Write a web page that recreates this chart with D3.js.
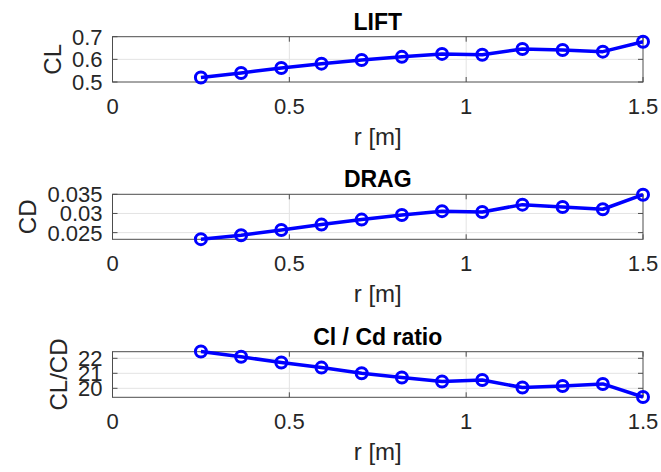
<!DOCTYPE html>
<html>
<head>
<meta charset="utf-8">
<script src="https://cdn.jsdelivr.net/npm/d3@7/dist/d3.min.js"></script>
<style>
  html, body { margin: 0; padding: 0; background: #fff; }
  svg { display: block; }
  text { font-family: "Liberation Sans", Arial, Helvetica, sans-serif; fill: #262626; }
</style>
</head>
<body>
<svg id="chart" width="661" height="472"></svg>
<script>
// Blade radial stations [m]
const radius = [0.25, 0.3636, 0.4773, 0.5909, 0.7045, 0.8182, 0.9318, 1.0455, 1.1591, 1.2727, 1.3864, 1.5];

// Section lift coefficient
const liftCoef = [0.520, 0.540, 0.562, 0.581, 0.597, 0.611, 0.624, 0.620, 0.646, 0.641, 0.634, 0.678];

// Section drag coefficient
const dragCoef = [0.0233, 0.0243, 0.0257, 0.0271, 0.0284, 0.0296, 0.0306, 0.0304, 0.0323, 0.0317, 0.0311, 0.0349];

// Lift-to-drag ratio
const liftDragRatio = [22.45, 22.10, 21.72, 21.38, 21.00, 20.72, 20.45, 20.55, 20.05, 20.15, 20.29, 19.42];

// Axis ticks and labels
const xTicks = [0, 0.5, 1, 1.5];
const liftTicks = [0.5, 0.6, 0.7];
const dragTicks = [0.025, 0.03, 0.035];
const ratioTicks = [20, 21, 22];
const panelTitles = ["LIFT", "DRAG", "Cl / Cd ratio"];
const yLabels = ["CL", "CD", "CL/CD"];
const xLabel = "r [m]";

const svg = d3.select("#chart");

const left = 112.5, right = 643;
const x = d3.scaleLinear().domain([0, 1.5]).range([left, right]);

const panels = [
  { title: panelTitles[0], ylabel: yLabels[0], values: liftCoef, ticks: liftTicks,
    domain: [0.5, 0.7], top: 36.7, bottom: 82 },
  { title: panelTitles[1], ylabel: yLabels[1], values: dragCoef, ticks: dragTicks,
    domain: [0.02326, 0.035], top: 194.3, bottom: 239.3 },
  { title: panelTitles[2], ylabel: yLabels[2], values: liftDragRatio, ticks: ratioTicks,
    domain: [19.4, 22.44], top: 351.7, bottom: 397.3 }
];

const edge = "#4d4d4d";
const gridColor = "#e3e3e3";
const tickLen = 5;
const fmt = d3.format("");

panels.forEach(p => {
  const y = d3.scaleLinear().domain(p.domain).range([p.bottom, p.top]);
  const g = svg.append("g");

  // grid
  g.append("g").selectAll("line").data(xTicks.filter(t => t > 0 && t < 1.5)).join("line")
    .attr("x1", d => x(d)).attr("x2", d => x(d))
    .attr("y1", p.top).attr("y2", p.bottom)
    .attr("stroke", gridColor).attr("stroke-width", 1);
  g.append("g").selectAll("line").data(p.ticks.filter(t => y(t) > p.top + 0.5 && y(t) < p.bottom - 0.5)).join("line")
    .attr("x1", left).attr("x2", right)
    .attr("y1", d => y(d)).attr("y2", d => y(d))
    .attr("stroke", gridColor).attr("stroke-width", 1);

  // inner tick marks on all four sides
  const tk = g.append("g").attr("stroke", edge).attr("stroke-width", 1);
  xTicks.forEach(t => {
    tk.append("line").attr("x1", x(t)).attr("x2", x(t)).attr("y1", p.bottom).attr("y2", p.bottom - tickLen);
    tk.append("line").attr("x1", x(t)).attr("x2", x(t)).attr("y1", p.top).attr("y2", p.top + tickLen);
  });
  p.ticks.forEach(t => {
    tk.append("line").attr("x1", left).attr("x2", left + tickLen).attr("y1", y(t)).attr("y2", y(t));
    tk.append("line").attr("x1", right).attr("x2", right - tickLen).attr("y1", y(t)).attr("y2", y(t));
  });

  // box
  g.append("rect")
    .attr("x", left).attr("y", p.top)
    .attr("width", right - left).attr("height", p.bottom - p.top)
    .attr("fill", "none").attr("stroke", edge).attr("stroke-width", 1);

  // x tick labels
  g.append("g").selectAll("text").data(xTicks).join("text")
    .attr("x", d => x(d)).attr("y", p.bottom + 32)
    .attr("text-anchor", "middle").style("font-size", "22px")
    .text(d => fmt(d));

  // y tick labels
  const yl = g.append("g").selectAll("text").data(p.ticks).join("text")
    .attr("x", left - 10).attr("y", d => y(d)).attr("dy", "0.36em")
    .attr("text-anchor", "end").style("font-size", "22px")
    .text(d => fmt(d));

  let minX = Infinity;
  yl.each(function () { minX = Math.min(minX, this.getBBox().x); });

  // y label
  g.append("text")
    .attr("transform", `translate(${minX - 11},${(p.top + p.bottom) / 2}) rotate(-90)`)
    .attr("text-anchor", "middle").style("font-size", "24px")
    .text(p.ylabel);

  // x label
  g.append("text")
    .attr("x", (left + right) / 2).attr("y", p.bottom + 63)
    .attr("text-anchor", "middle").style("font-size", "24px")
    .text(xLabel);

  // title
  g.append("text")
    .attr("x", (left + right) / 2).attr("y", p.top - 7)
    .attr("text-anchor", "middle").style("font-size", "23px").style("font-weight", "bold")
    .style("fill", "#000")
    .text(p.title);

  // series
  const pts = radius.map((r, i) => [r, p.values[i]]);
  g.append("path")
    .datum(pts)
    .attr("fill", "none").attr("stroke", "#0000ff").attr("stroke-width", 3.5)
    .attr("stroke-linejoin", "round")
    .attr("d", d3.line().x(d => x(d[0])).y(d => y(d[1])));
  g.append("g").selectAll("circle").data(pts).join("circle")
    .attr("cx", d => x(d[0])).attr("cy", d => y(d[1])).attr("r", 5.5)
    .attr("fill", "none").attr("stroke", "#0000ff").attr("stroke-width", 3);
});
</script>
</body>
</html>
